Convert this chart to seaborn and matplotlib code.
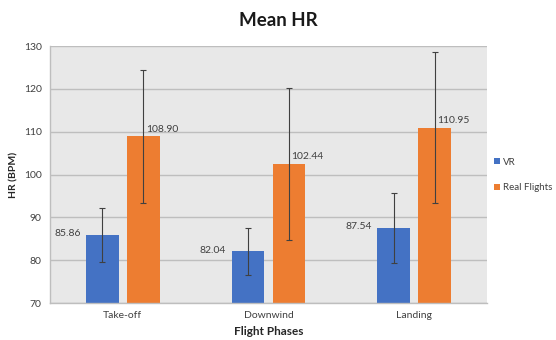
import matplotlib
matplotlib.use("Agg")
import matplotlib.pyplot as plt
import seaborn as sns
import pandas as pd

phases = ["Take-off", "Downwind", "Landing"]
series = ["VR", "Real Flights"]
vr_mean = [85.86, 82.04, 87.54]
real_mean = [108.90, 102.44, 110.95]
vr_err = [6.3, 5.4, 8.2]
real_err = [15.5, 17.7, 17.6]
colors = ["#4472C4", "#ED7D31"]

df = pd.DataFrame({
    "phase": phases * 2,
    "group": [series[0]] * 3 + [series[1]] * 3,
    "hr": vr_mean + real_mean,
})

sns.set_theme(style="white")
plt.rcParams["font.family"] = ["Lato", "DejaVu Sans"]

fig = plt.figure(figsize=(5.56, 3.4), dpi=100)
ax = fig.add_axes([50/556, 1-303/340, 437/556, 257/340])
ax.set_facecolor("#E8E8E8")

sns.barplot(data=df, x="phase", y="hr", hue="group", palette=colors,
            order=phases, hue_order=series, width=0.56, gap=0.2,
            saturation=1, errorbar=None, ax=ax, zorder=2, linewidth=0,
            legend=False)

ax.set_xlim(-0.5, 2.5)
ax.set_ylim(70, 130)
ax.set_yticks(range(70, 131, 10))
ax.yaxis.grid(True, color="#BEBEBE", linewidth=1.0, zorder=0)
ax.set_axisbelow(True)
for s in ["top", "right"]:
    ax.spines[s].set_visible(False)
for s in ["left", "bottom"]:
    ax.spines[s].set_color("#BEBEBE")
    ax.spines[s].set_linewidth(1.0)

ax.tick_params(axis="both", length=0, labelsize=7.5, colors="#404040", pad=6)
ax.set_xlabel("Flight Phases", fontsize=8.5, fontweight="bold", color="#262626", labelpad=4)
ax.set_ylabel("HR (BPM)", fontsize=7.5, fontweight="bold", color="#262626", labelpad=4)
fig.text(0.5, 1-20/340, "Mean HR", ha="center", va="center",
         fontsize=13.5, fontweight="bold", color="#1a1a1a")

# error bars and value labels
means = [vr_mean, real_mean]
errs = [vr_err, real_err]
bar_containers = list(ax.containers)
for ci, cont in enumerate(bar_containers):
    for bi, patch in enumerate(cont.patches):
        xc = patch.get_x() + patch.get_width() / 2
        m = means[ci][bi]
        ax.errorbar(xc, m, yerr=errs[ci][bi], fmt="none", ecolor="#404040",
                    elinewidth=0.8, capsize=2.5, capthick=0.8, zorder=3)
        if ci == 0:
            ax.annotate(f"{m:.2f}", (patch.get_x(), m), xytext=(-4, 1),
                        textcoords="offset points", ha="right", va="center",
                        fontsize=7.5, color="#404040", zorder=4)
        else:
            ax.annotate(f"{m:.2f}", (xc, m), xytext=(2, 2),
                        textcoords="offset points", ha="left", va="bottom",
                        fontsize=7.5, color="#404040", zorder=4)

leg = fig.legend(handles=[bar_containers[0].patches[0], bar_containers[1].patches[0]],
                 labels=series,
                 loc="center left", bbox_to_anchor=(494/556, 1-175/340),
                 frameon=False, fontsize=7,
                 handlelength=0.6, handleheight=0.6, handletextpad=0.3,
                 labelspacing=1.7, borderpad=0, borderaxespad=0)
for t in leg.get_texts():
    t.set_color("#404040")

fig.savefig("out.png", dpi=100)
